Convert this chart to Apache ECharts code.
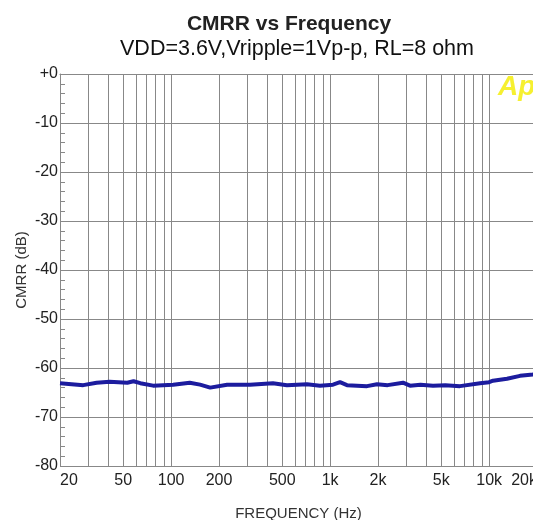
<!DOCTYPE html>
<html>
<head>
<meta charset="utf-8">
<script src="https://cdn.jsdelivr.net/npm/echarts@6/dist/echarts.min.js"></script>
<style>
  html, body { margin: 0; padding: 0; background: #fff; }
  #chart { width: 533px; height: 520px; }
</style>
</head>
<body>
<div id="chart"></div>
<script>
// frequency (Hz) and CMRR (dB)
var freqs = [20, 28, 34, 41, 53, 58, 64, 77, 103, 131, 152, 176, 225, 313, 437, 535, 715, 863, 1042, 1154, 1276, 1706, 1972, 2300, 2872, 3178, 3700, 4436, 5300, 6558, 8766, 10000, 10576, 12956, 15638, 18878, 20000]
var cmrr = [-63.1, -63.5, -63.0, -62.8, -63.0, -62.7, -63.1, -63.6, -63.4, -63.0, -63.4, -64.0, -63.4, -63.4, -63.1, -63.5, -63.3, -63.6, -63.4, -62.9, -63.5, -63.7, -63.3, -63.5, -63.0, -63.6, -63.4, -63.6, -63.5, -63.7, -63.1, -62.9, -62.6, -62.2, -61.6, -61.3, -61.1]

var gridFreqs = [20, 30, 40, 50, 60, 70, 80, 90, 100, 200, 300, 400, 500, 600, 700, 800, 900,
  1000, 2000, 3000, 4000, 5000, 6000, 7000, 8000, 9000, 10000, 20000]
var labelFreqs = [20, 50, 100, 200, 500, 1000, 2000, 5000, 10000, 20000]

var lg = function (f) { return Math.log10(f) }

var chart = echarts.init(document.getElementById('chart'))

function fmtFreq(v) {
  var f = Math.round(Math.pow(10, v))
  return f >= 1000 ? (f / 1000) + 'k' : String(f)
}

chart.setOption({
  animation: false,
  backgroundColor: '#fff',
  textStyle: { fontFamily: 'Liberation Sans, Arial, sans-serif' },
  title: [
    {
      text: 'CMRR vs Frequency',
      left: 284, top: 9, textAlign: 'center',
      textStyle: { fontSize: 21, fontWeight: 'bold', color: '#222', fontFamily: 'Liberation Sans, Arial, sans-serif' }
    },
    {
      text: 'VDD=3.6V,Vripple=1Vp-p, RL=8 ohm',
      left: 292, top: 33, textAlign: 'center',
      textStyle: { fontSize: 21.5, fontWeight: 'normal', color: '#111', fontFamily: 'Liberation Sans, Arial, sans-serif' }
    }
  ],
  graphic: [
    {
      type: 'text', left: 498, top: 73, z: 0,
      style: { text: 'Ap', fill: '#f6f030', font: 'italic bold 28px Liberation Sans, Arial, sans-serif' }
    }
  ],
  grid: { left: 60, top: 74, width: 477, height: 392, outerBoundsMode: 'none', containLabel: false },
  xAxis: {
    type: 'value',
    min: lg(20),
    max: lg(20000),
    name: 'FREQUENCY (Hz)',
    nameLocation: 'middle',
    nameGap: 40,
    nameTextStyle: { fontSize: 15, color: '#333' },
    axisLine: { show: true, lineStyle: { color: '#888', width: 1 } },
    axisTick: { show: false, customValues: gridFreqs.map(lg) },
    axisLabel: {
      customValues: labelFreqs.map(lg),
      formatter: fmtFreq,
      fontSize: 16,
      color: '#222',
      margin: 7,
      alignMinLabel: 'left',
      alignMaxLabel: 'right'
    },
    splitLine: { show: true, lineStyle: { color: '#888', width: 1 } }
  },
  yAxis: {
    type: 'value',
    min: -80,
    max: 0,
    interval: 10,
    name: 'CMRR (dB)',
    nameLocation: 'middle',
    nameGap: 31,
    nameMoveOverlap: false,
    nameTextStyle: { fontSize: 15, color: '#333' },
    axisLine: { show: true, lineStyle: { color: '#888', width: 1 } },
    axisTick: { show: true, inside: true, length: 6, lineStyle: { color: '#888' } },
    minorTick: { show: true, splitNumber: 5, length: 5, lineStyle: { color: '#888' } },
    axisLabel: {
      fontSize: 16,
      color: '#222',
      margin: 2,
      formatter: function (v) { return v === 0 ? '+0' : String(v) }
    },
    splitLine: { show: true, lineStyle: { color: '#888', width: 1 } }
  },
  series: [
    {
      type: 'line',
      data: freqs.map(function (f, i) { return [lg(f), cmrr[i]] }),
      showSymbol: false,
      lineStyle: { color: '#1c1c9e', width: 4 },
      z: 3
    }
  ]
})
</script>
</body>
</html>
